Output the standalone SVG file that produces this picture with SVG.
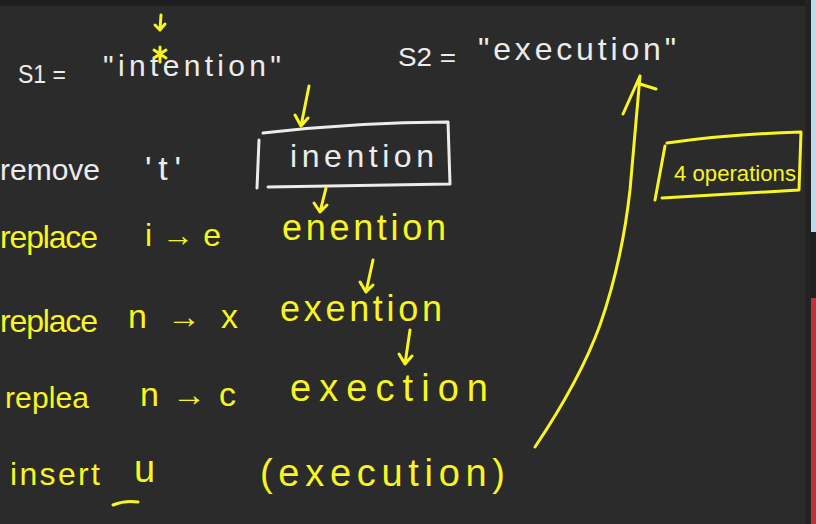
<svg xmlns="http://www.w3.org/2000/svg" width="816" height="524" viewBox="0 0 816 524">
<defs>
<style>
.w{fill:#ececec;font-family:"Liberation Sans","DejaVu Sans",sans-serif;}
.y{fill:#f8f520;font-family:"Liberation Sans","DejaVu Sans",sans-serif;}
.ys{fill:none;stroke:#f8f520;stroke-width:3;stroke-linecap:round;stroke-linejoin:round;}
.ws{fill:none;stroke:#ececec;stroke-width:3;stroke-linecap:round;stroke-linejoin:round;}
</style>
</defs>
<rect x="0" y="0" width="816" height="524" fill="#2b2b2b"/>
<rect x="0" y="0" width="816" height="6" fill="#1e1e1e"/>
<rect x="805" y="0" width="6" height="524" fill="#232323"/>
<rect x="811" y="0" width="5" height="232" fill="#b9dcec"/>
<rect x="811" y="232" width="5" height="66" fill="#1f2024"/>
<rect x="811" y="298" width="5" height="226" fill="#c0303c"/>

<g id="s1">
<text class="w" x="18" y="83" font-size="26" textLength="48" lengthAdjust="spacingAndGlyphs">S1 =</text>
<text class="w" x="103" y="76" font-size="30" textLength="178" lengthAdjust="spacing">"intention"</text>
<path class="ys" d="M154 50 L166 58 M160 47 L160 62 M154 58 L166 50" stroke-width="2"/>
</g>
<g id="s2">
<text class="w" x="398" y="66" font-size="26" textLength="58" lengthAdjust="spacingAndGlyphs">S2 =</text>
<text class="w" x="478" y="60" font-size="32" textLength="198" lengthAdjust="spacing">"execution"</text>
</g>

<g id="row1">
<text class="w" x="0" y="180" font-size="30" textLength="100" lengthAdjust="spacing">remove</text>
<text class="w" x="145" y="180" font-size="34" textLength="36" lengthAdjust="spacing">'t'</text>
</g>
<g id="box-inention">
<path class="ws" d="M263 133 Q360 122 448 122 L450 184 L268 187 M259 140 L257 188" stroke-width="2.5"/>
<text class="w" x="290" y="167" font-size="32" textLength="144" lengthAdjust="spacing">inention</text>
</g>

<g id="row2">
<text class="y" x="0" y="248" font-size="32" textLength="98" lengthAdjust="spacing">replace</text>
<text class="y" x="145" y="246" font-size="32" textLength="76" lengthAdjust="spacing">i→e</text>
<text class="y" x="282" y="240" font-size="36" textLength="164" lengthAdjust="spacing">enention</text>
</g>
<g id="row3">
<text class="y" x="0" y="332" font-size="32" textLength="98" lengthAdjust="spacing">replace</text>
<text class="y" x="128" y="328" font-size="34" textLength="110" lengthAdjust="spacing">n→x</text>
<text class="y" x="280" y="321" font-size="36" textLength="162" lengthAdjust="spacing">exention</text>
</g>
<g id="row4">
<text class="y" x="5" y="408" font-size="30" textLength="84" lengthAdjust="spacing">replea</text>
<text class="y" x="140" y="406" font-size="34" textLength="96" lengthAdjust="spacing">n→c</text>
<text class="y" x="290" y="401" font-size="38" textLength="198" lengthAdjust="spacing">exection</text>
</g>
<g id="row5">
<text class="y" x="10" y="485" font-size="32" textLength="90" lengthAdjust="spacing">insert</text>
<text class="y" x="134" y="482" font-size="38">u</text>
<path class="ys" d="M113 505 Q125 500 138 502"/>
<text class="y" x="260" y="486" font-size="38" textLength="245" lengthAdjust="spacing">(execution)</text>
</g>

<g id="box-4ops">
<path class="ys" d="M667 143 Q730 134 801 132 L799 190 L662 198 M665 146 L655 200"/>
<text class="y" x="674" y="181" font-size="22" textLength="122" lengthAdjust="spacingAndGlyphs">4 operations</text>
</g>

<g id="connectors">
<path class="ys" d="M161 15 L160 30 M155 25 L160 30 L165 24" stroke-width="2"/>
<path class="ys" d="M309 86 L301 126 M295 115 L301 126 L308 118"/>
<path class="ys" d="M326 188 L320 212 M314 203 L320 212 L327 205"/>
<path class="ys" d="M373 260 L366 292 M360 282 L366 292 L373 285"/>
<path class="ys" d="M410 330 L405 364 M399 354 L405 364 L412 356"/>
<path class="ys" d="M535 447 Q580 380 600 325 Q622 262 630 190 L640 76 M623 114 L640 76 M640 84 L656 89"/>
</g>
</svg>
